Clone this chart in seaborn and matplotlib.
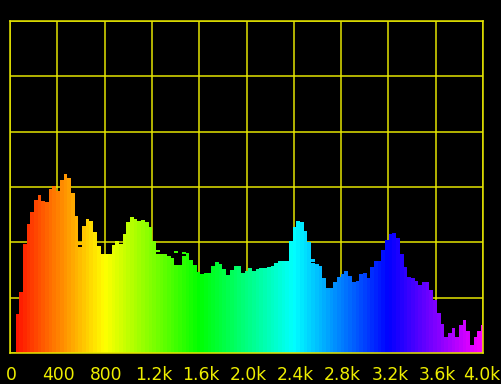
import numpy as np
import pandas as pd
import matplotlib
matplotlib.use("Agg")
import matplotlib.pyplot as plt
import matplotlib.colors as mcolors
import matplotlib.transforms as mtransforms
import seaborn as sns

# Audio spectrum: 31.25 Hz FFT bins, levels in dBFS, first shown bin is bin 2
BIN_HZ = 31.25
FIRST_BIN = 2
levels_db = [
    -53.0, -49.0, -40.3, -36.7, -34.6, -32.3, -31.4, -32.5, -32.8, -30.3,
    -29.8, -30.8, -28.7, -27.7, -28.3, -31.0, -35.2, -40.8, -37.0, -35.7,
    -36.1, -38.1, -40.7, -42.1, -42.1, -42.1, -40.5, -39.7, -40.3, -38.5,
    -36.4, -35.4, -35.8, -36.1, -36.0, -36.4, -37.3, -39.8, -42.1, -42.1,
    -42.1, -42.5, -42.8, -44.1, -44.1, -42.5, -42.0, -43.2, -44.1, -45.4,
    -45.7, -45.5, -45.5, -44.2, -43.6, -43.9, -44.9, -45.9, -45.0, -44.2,
    -44.2, -45.5, -45.2, -44.7, -45.2, -44.8, -44.7, -44.6, -44.4, -44.2,
    -43.7, -43.4, -43.4, -43.4, -39.7, -37.2, -36.1, -36.4, -37.9, -39.9,
    -43.7, -43.9, -44.2, -46.4, -48.3, -48.3, -47.2, -46.2, -45.8, -45.2,
    -46.1, -47.2, -47.0, -45.7, -45.5, -46.4, -44.5, -43.4, -43.4, -41.3,
    -39.6, -38.5, -38.4, -39.2, -42.1, -44.5, -46.2, -46.4, -46.9, -47.7,
    -47.1, -47.1, -48.6, -50.4, -52.8, -54.8, -57.1, -56.3, -55.5, -57.1,
    -54.9, -54.0, -56.0, -58.6, -57.1, -56.0, -54.9,
]

# Peak-hold markers (bin index, dBFS)
peak_bins = [19, 40, 45, 47, 82]
peak_db = [-40.0, -41.4, -41.6, -41.7, -43.1]

FLOOR_DB = -60.0
TOP_DB = 0.0
MAX_HZ = 4000.0
tick_hz = [0, 400, 800, 1200, 1600, 2000, 2400, 2800, 3200, 3600, 4000]
tick_labels = ["0", "400", "800", "1.2k", "1.6k", "2.0k", "2.4k", "2.8k",
               "3.2k", "3.6k", "4.0k"]

GRID_YELLOW = "#E4E400"
TEXT_YELLOW = "#EEEE00"


def spectrum_colour(freq_hz):
    # red at DC sweeping through the hue wheel to magenta at 4 kHz
    hue = (freq_hz / MAX_HZ) * (300.0 / 360.0)
    return mcolors.hsv_to_rgb((hue, 1.0, 1.0))


freqs = (FIRST_BIN + np.arange(len(levels_db))) * BIN_HZ
df = pd.DataFrame({"freq": freqs,
                   "height": np.array(levels_db) - FLOOR_DB})
palette = {f: spectrum_colour(f) for f in freqs}

W, H = 501, 384
fig = plt.figure(figsize=(W / 100, H / 100), dpi=100, facecolor="black")
ax = fig.add_axes([10 / W, (H - 353) / H, 473 / W, 332 / H])
ax.set_facecolor("black")

sns.barplot(data=df, x="freq", y="height", hue="freq", palette=palette,
            native_scale=True, width=1.0, errorbar=None, legend=False,
            saturation=1, linewidth=0, antialiased=False, ax=ax)

# peak-hold ticks sitting above the bars
pk_freq = np.array(peak_bins) * BIN_HZ
pk_height = np.array(peak_db) - FLOOR_DB
ax.bar(pk_freq, 0.4, bottom=pk_height - 0.4, width=BIN_HZ,
       color=[spectrum_colour(f) for f in pk_freq], linewidth=0,
       antialiased=False)

ax.set_xlim(0, MAX_HZ)
ax.set_ylim(0, TOP_DB - FLOOR_DB)
ax.set_xlabel("")
ax.set_ylabel("")

ax.set_axisbelow(True)
ax.set_xticks(tick_hz)
ax.set_xticklabels(tick_labels)
ax.set_yticks(np.arange(0, TOP_DB - FLOOR_DB + 1, 10))
ax.set_yticklabels([])
ax.grid(True, color=GRID_YELLOW, linewidth=1.1)
ax.tick_params(axis="both", length=0)
ax.tick_params(axis="x", pad=9.0, labelcolor=TEXT_YELLOW, labelsize=12.3)

labels = ax.get_xticklabels()
for i, lbl in enumerate(labels):
    lbl.set_fontfamily("DejaVu Sans")
    # nudge labels a touch right; the last one is kept inside the canvas
    dx = 1.5 if i < len(labels) - 1 else -1.5
    offset = mtransforms.ScaledTranslation(dx / 100, 0, fig.dpi_scale_trans)
    lbl.set_transform(lbl.get_transform() + offset)

for sp in ax.spines.values():
    sp.set_visible(True)
    sp.set_color(GRID_YELLOW)
    sp.set_linewidth(1.1)

fig.savefig("out.png", dpi=100, facecolor="black")
